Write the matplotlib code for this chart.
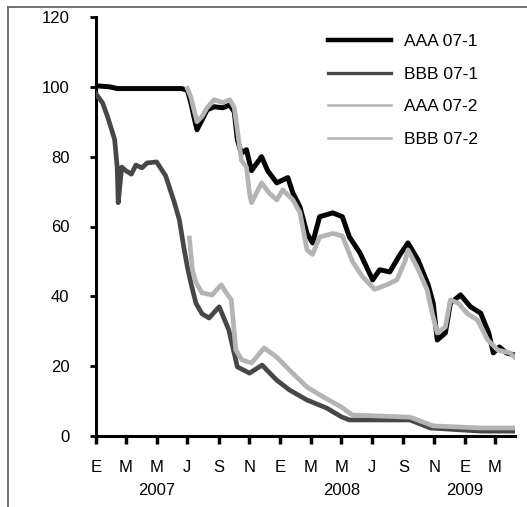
import matplotlib
matplotlib.use("Agg")
import matplotlib.pyplot as plt
from matplotlib.lines import Line2D
import pandas as pd

plt.rcParams["font.family"] = ["Liberation Sans", "DejaVu Sans"]

# ABX index prices
aaa071_dates = ["2007-01-01", "2007-01-28", "2007-02-12", "2007-06-20", "2007-07-01", "2007-07-08",
                "2007-07-14", "2007-07-20", "2007-07-30", "2007-08-09", "2007-08-23", "2007-09-09",
                "2007-09-23", "2007-10-02", "2007-10-08", "2007-10-16", "2007-10-26", "2007-11-05",
                "2007-11-15", "2007-11-25", "2007-12-07", "2007-12-25", "2008-01-16", "2008-01-26",
                "2008-02-09", "2008-02-23", "2008-03-05", "2008-03-19", "2008-04-14", "2008-05-03",
                "2008-05-17", "2008-06-07", "2008-07-02", "2008-07-16", "2008-08-05", "2008-08-25",
                "2008-09-10", "2008-09-30", "2008-10-20", "2008-10-30", "2008-11-07", "2008-11-23",
                "2008-12-03", "2008-12-23", "2009-01-12", "2009-02-01", "2009-02-17", "2009-02-26",
                "2009-03-10", "2009-03-24", "2009-04-09"]
aaa071_values = [100.3, 100, 99.5, 99.5, 99, 95.4, 91.4, 87.7, 90.5, 93.4, 94.3, 94, 94.8, 92.8,
                 84.8, 81, 82, 76, 78, 80, 76, 72.5, 74, 69.6, 65.6, 58, 55.3, 62.8, 63.9, 62.8,
                 57, 52.4, 44.7, 47.6, 47, 51.9, 55.3, 50.4, 43.3, 38, 27.5, 29.5, 38, 40.4, 37,
                 35.2, 29.5, 23.8, 25.5, 23.8, 23.2]

bbb071_dates = ["2007-01-01", "2007-01-14", "2007-01-24", "2007-02-01", "2007-02-07", "2007-02-12",
                "2007-02-14", "2007-02-21", "2007-03-01", "2007-03-12", "2007-03-21", "2007-04-02",
                "2007-04-12", "2007-05-01", "2007-05-19", "2007-06-05", "2007-06-15", "2007-06-24",
                "2007-07-01", "2007-07-08", "2007-07-18", "2007-07-30", "2007-08-13", "2007-09-02",
                "2007-09-21", "2007-10-08", "2007-11-01", "2007-11-26", "2007-12-25", "2008-01-19",
                "2008-02-23", "2008-04-02", "2008-05-01", "2008-05-17", "2008-09-14", "2008-10-24",
                "2009-02-01", "2009-04-09"]
bbb071_values = [98, 95.4, 91.4, 87.7, 84.8, 77, 66.8, 77, 76, 75, 77.6, 76.8, 78.2, 78.5, 74.5,
                 67, 62, 54, 48.4, 43.8, 38, 35, 33.8, 37, 30.4, 19.8, 18, 20.3, 16, 13.2, 10.3,
                 8, 5.5, 4.6, 4.6, 2.3, 1.4, 1.4]

aaa072_dates = ["2007-07-01", "2007-07-08", "2007-07-20", "2007-07-30", "2007-08-09", "2007-08-23",
                "2007-09-09", "2007-09-23", "2007-10-02", "2007-10-08", "2007-10-16", "2007-10-26",
                "2007-11-01", "2007-11-05", "2007-11-25", "2007-12-10", "2007-12-25", "2008-01-06",
                "2008-01-26", "2008-02-09", "2008-02-23", "2008-03-05", "2008-03-19", "2008-04-14",
                "2008-05-03", "2008-05-23", "2008-06-12", "2008-07-06", "2008-07-30", "2008-08-19",
                "2008-09-04", "2008-09-10", "2008-09-28", "2008-10-18", "2008-10-28", "2008-11-07",
                "2008-11-23", "2008-12-03", "2008-12-19", "2009-01-06", "2009-01-26", "2009-02-15",
                "2009-03-07", "2009-03-31", "2009-04-09"]
aaa072_values = [99.5, 97, 90, 91.5, 94, 96.3, 95.5, 96.3, 94, 87.7, 79, 77, 69.6, 66.8, 72.5,
                 69.6, 67.6, 70.5, 67.6, 64, 53.3, 52, 57, 58, 57.3, 50, 45.6, 42, 43.3, 44.7,
                 50, 53.3, 48.4, 41.8, 35.2, 29.5, 31.2, 39, 38, 35, 33.2, 27.5, 24.6, 23.8, 22.6]

bbb072_dates = ["2007-07-05", "2007-07-11", "2007-07-18", "2007-07-30", "2007-08-19", "2007-09-06",
                "2007-09-16", "2007-09-26", "2007-10-05", "2007-10-17", "2007-11-05", "2007-11-30",
                "2007-12-25", "2008-01-19", "2008-02-23", "2008-03-26", "2008-05-01", "2008-05-23",
                "2008-09-14", "2008-10-30", "2009-02-01", "2009-04-09"]
bbb072_values = [56.7, 47.6, 44, 41, 40.4, 43.3, 41, 39, 24.6, 21.8, 20.9, 25.2, 22.6, 18.9, 14,
                 11.2, 8.3, 6, 5.4, 2.9, 2.3, 2.3]

series_labels = ["AAA 07-1", "BBB 07-1", "AAA 07-2", "BBB 07-2"]
month_letters = ["E", "M", "M", "J", "S", "N", "E", "M", "M", "J", "S", "N", "E", "M"]
year_labels = ["2007", "2008", "2009"]
year_positions = ["2007-05-01", "2008-05-01", "2009-01-01"]

W, H = 527, 507
fig = plt.figure(figsize=(W / 100, H / 100), dpi=100)
ax = fig.add_axes([96 / W, 1 - 436 / H, (515 - 96) / W, (436 - 17) / H])

black = "#050505"
dark = "#474747"
light = "#b4b4b4"

ax.plot(pd.to_datetime(aaa071_dates), aaa071_values, color=black, lw=3.6, zorder=3)
ax.plot(pd.to_datetime(bbb071_dates), bbb071_values, color=dark, lw=3.4, zorder=3)
ax.plot(pd.to_datetime(bbb072_dates), bbb072_values, color=light, lw=3.4, zorder=4)
ax.plot(pd.to_datetime(aaa072_dates), aaa072_values, color=light, lw=3.4, zorder=4)

ax.set_ylim(0, 120)
ax.set_xlim(pd.Timestamp("2007-01-01"), pd.Timestamp("2009-04-10"))
ax.set_yticks(range(0, 121, 20))
ax.tick_params(axis="y", direction="out", length=4, width=2, pad=15, labelsize=12)

tick_dates = pd.date_range("2007-01-01", periods=len(month_letters), freq="2MS")
ax.set_xticks(tick_dates)
ax.set_xticklabels(month_letters)
ax.tick_params(axis="x", direction="out", length=6, width=2.5, pad=11, labelsize=12)

for side in ("top", "right"):
    ax.spines[side].set_visible(False)
for side in ("left", "bottom"):
    ax.spines[side].set_linewidth(2.2)
    ax.spines[side].set_color("black")
ax.set_facecolor("none")

trans = ax.get_xaxis_transform()
for lab, pos in zip(year_labels, year_positions):
    ax.text(pd.Timestamp(pos), -0.13, lab, transform=trans, ha="center", va="center",
            fontsize=12, clip_on=False)

handles = [Line2D([], [], color=black, lw=3.2),
           Line2D([], [], color=dark, lw=2.4),
           Line2D([], [], color=light, lw=1.8),
           Line2D([], [], color=light, lw=1.8)]
ax.legend(handles, series_labels, loc="upper left",
          bbox_to_anchor=((328 - 96) / (515 - 96), (436 - 34) / (436 - 17)),
          frameon=False, fontsize=12.5, handlelength=3.6, handletextpad=0.75,
          labelspacing=1.0, borderpad=0, borderaxespad=0)

# outer frame (left and top edges)
fig.add_artist(Line2D([8 / W, 8 / W], [0, 1 - 7 / H], transform=fig.transFigure, color="#666666", lw=1.3))
fig.add_artist(Line2D([8 / W, 1], [1 - 7 / H, 1 - 7 / H], transform=fig.transFigure, color="#666666", lw=1.3))

fig.savefig("out.png", dpi=100)
